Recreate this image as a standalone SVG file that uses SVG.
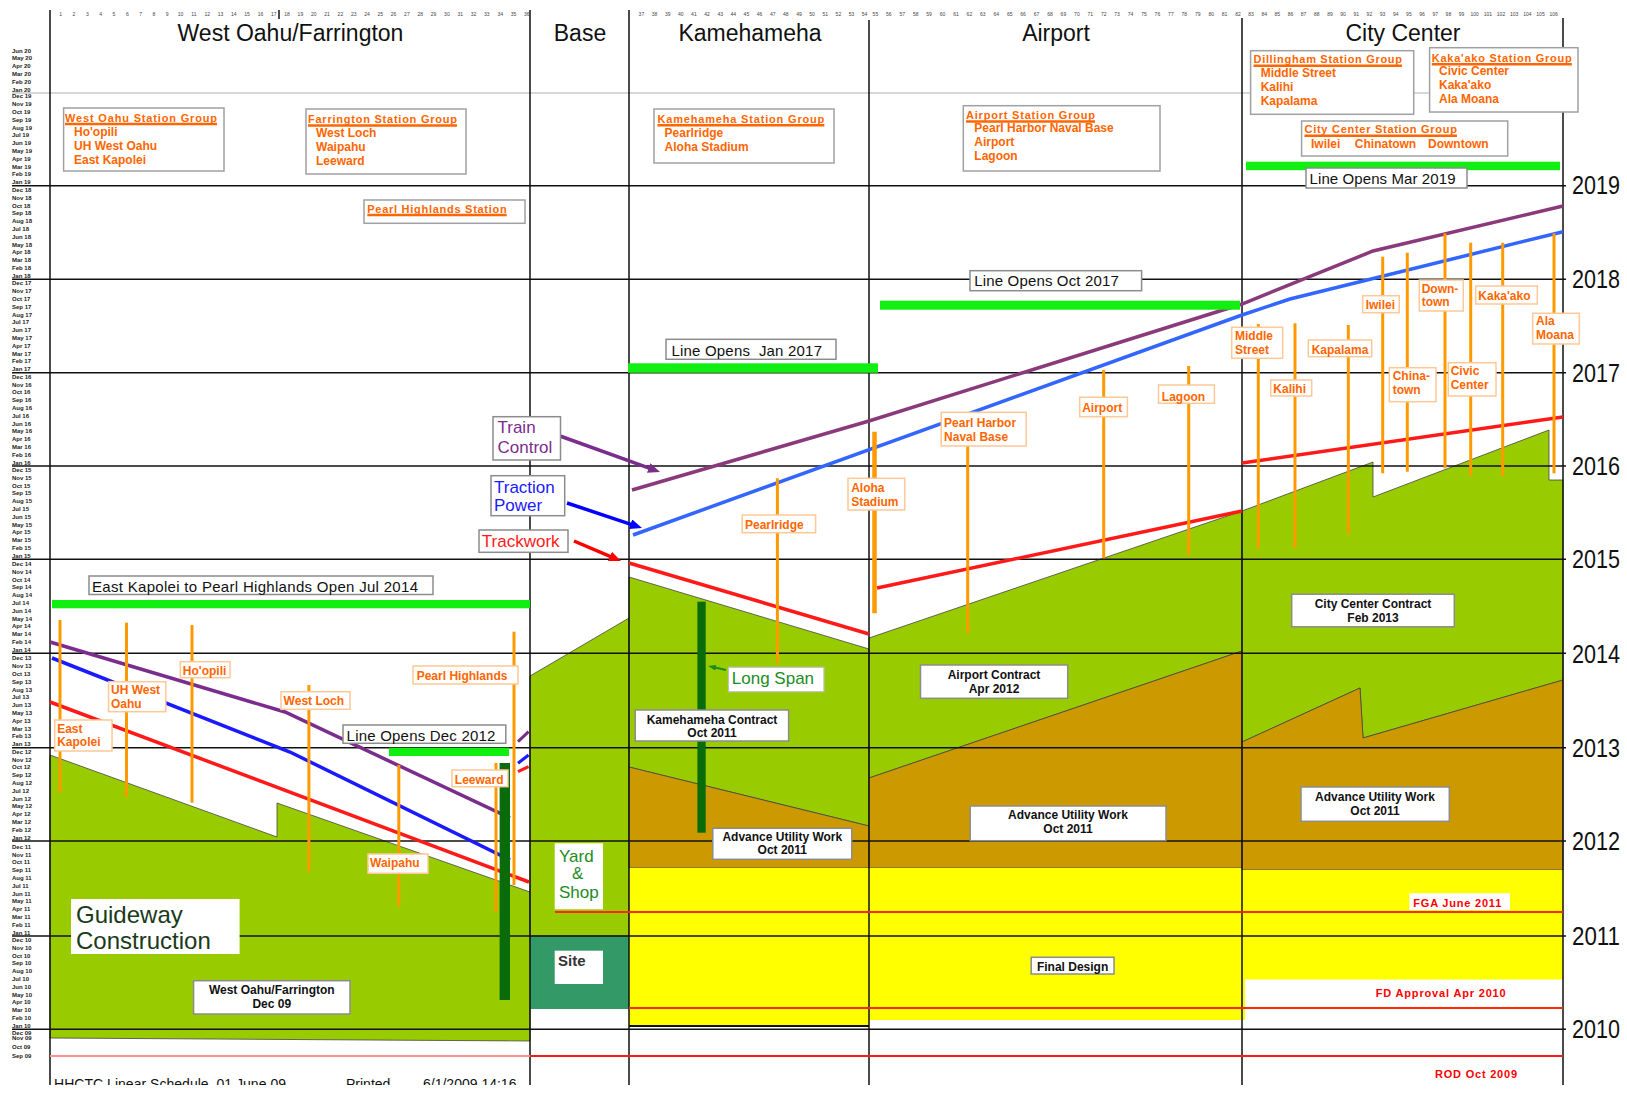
<svg xmlns="http://www.w3.org/2000/svg" width="1627" height="1095" viewBox="0 0 1627 1095">
<defs>
<style>
text{font-family:"Liberation Sans",Arial,sans-serif}
.grid{stroke:#111;stroke-width:1.5;fill:none}
.fill{stroke:#444;stroke-width:0.8}
.g{fill:#99CC00}.br{fill:#CC9900}.ye{fill:#FFFF00}
.hdr{font-size:23px;fill:#111;text-anchor:middle}
.sgbox{fill:#fff;stroke:#a0a0a0;stroke-width:1.5}
.sgt{font-size:11px;font-weight:bold;fill:#ff6600}
.ul{stroke:#ff6600;stroke-width:2.5}
.sgi{font-size:12px;font-weight:bold;fill:#ff6600}
.stbox{fill:#fff;stroke:#ffc896;stroke-width:1.5}
.stl{stroke:#ff9900;stroke-width:3;fill:none}
.bx{fill:#fff;stroke:#8c8c8c;stroke-width:1.5}
.bt{font-size:12px;font-weight:bold;fill:#111;text-anchor:middle}
.lo{font-size:15px;fill:#111}
.yr{font-size:25px;fill:#111}
.mo{font-size:6px;font-weight:bold;fill:#222}
.tk{font-size:5px;fill:#444;text-anchor:middle}
.ms{stroke:#ff2a00;stroke-width:2;fill:none}
.mst{font-size:11px;font-weight:bold;fill:#ff0000}
.gb{fill:#11ee11}
</style>
<marker id="ap" viewBox="0 0 12 10" refX="2" refY="5" markerWidth="12" markerHeight="10" markerUnits="userSpaceOnUse" orient="auto"><path d="M0,0 L12,5 L0,10 z" fill="#7B2D8E"/></marker>
<marker id="ab" viewBox="0 0 12 10" refX="2" refY="5" markerWidth="12" markerHeight="10" markerUnits="userSpaceOnUse" orient="auto"><path d="M0,0 L12,5 L0,10 z" fill="#0000ff"/></marker>
<marker id="ar" viewBox="0 0 12 10" refX="2" refY="5" markerWidth="12" markerHeight="10" markerUnits="userSpaceOnUse" orient="auto"><path d="M0,0 L12,5 L0,10 z" fill="#ff0000"/></marker>
<marker id="ag" viewBox="0 0 8 6" refX="1" refY="3" markerWidth="8" markerHeight="6" markerUnits="userSpaceOnUse" orient="auto"><path d="M0,0 L8,3 L0,6 z" fill="#1e8c1e"/></marker>
</defs>
<rect width="1627" height="1095" fill="#fff"/>

<g id="fills">
<polygon class="fill g" points="50,755 277,837 277,803 530,892 530,1041 50,1038"/>
<polygon class="fill g" points="530,676 629,618 629,936 530,936"/>
<rect x="530" y="936" width="99" height="73" fill="#339966"/>
<polygon class="fill g" points="629,577 869,649 869,826 629,767"/>
<polygon class="fill br" points="629,767 869,826 869,868 629,868"/>
<rect class="ye" x="629" y="868" width="240" height="157"/>
<polygon class="fill g" points="869,638 1242,511 1242,651 869,778"/>
<polygon class="fill br" points="869,778 1242,651 1242,868 869,868"/>
<rect class="ye" x="869" y="868" width="376" height="152"/>
<polygon class="fill g" points="1242,511 1373,462 1373,497 1549,430 1549,480 1563,480 1563,680 1363,738 1360,688 1242,742"/>
<polygon class="fill br" points="1242,742 1360,688 1363,738 1563,680 1563,870 1242,870"/>
<rect class="ye" x="1242" y="870" width="321" height="109.5"/>
</g>

<g id="grid">
<line x1="12" y1="93" x2="1563" y2="93" stroke="#b0b0b0" stroke-width="1.2"/>
<path class="grid" d="M12,185.7H1566M12,279.3H1566M12,372.7H1566M12,466H1566M12,559.3H1566M12,653.3H1566M12,747.7H1566M12,841H1566M12,936H1566M12,1029.3H1566"/>
<path class="grid" d="M50,10V1085M530,10V1085M629,10V1085M869,20V1085M1242,18V1085M1563,18V1087"/>
<line x1="629" y1="1026" x2="869" y2="1026" stroke="#111" stroke-width="2"/>
<line x1="279" y1="10" x2="279" y2="19" stroke="#111" stroke-width="1.5"/>
</g>

<g id="milestones">
<line class="ms" x1="555" y1="912" x2="1563" y2="912"/>
<line class="ms" x1="629" y1="1008" x2="1563" y2="1008" stroke="#ff0000"/>
<line x1="50" y1="1056" x2="530" y2="1056" stroke="#ff8f8f" stroke-width="2"/>
<line x1="530" y1="1056" x2="1563" y2="1056" stroke="#ff1a1a" stroke-width="2"/>
</g>

<g id="schedule-lines" fill="none" stroke-width="3.5">
<polyline points="50,642 285,712 510,818" stroke="#7B2D8E"/>
<polyline points="52,658 290,752 510,860" stroke="#1a1aff"/>
<polyline points="50,702 529,882" stroke="#ff1a1a"/>
<line x1="518" y1="741.7" x2="528.6" y2="731.7" stroke="#7B2D8E" stroke-width="3"/>
<line x1="518" y1="763.3" x2="528.6" y2="755" stroke="#1a1aff" stroke-width="3"/>
<line x1="518" y1="771.7" x2="528.6" y2="766.7" stroke="#ff1a1a" stroke-width="3"/>
<polyline points="632,490 869,421 1242,304 1373,251 1563,206" stroke="#8A3A7A"/>
<polyline points="633,535 1242,315 1290,299 1563,231.7" stroke="#3366ff"/>
<polyline points="629,563 869,634" stroke="#ff1a1a"/>
<polyline points="877,588 1242,511" stroke="#ff1a1a"/>
<polyline points="1242,463 1563,417" stroke="#ff1a1a"/>
</g>

<g id="station-lines" class="stl">
<line x1="60" y1="620" x2="60" y2="793"/>
<line x1="126.5" y1="622.7" x2="126.5" y2="797"/>
<line x1="192" y1="625" x2="192" y2="802.7"/>
<line x1="308.9" y1="685" x2="308.9" y2="871.7"/>
<line x1="398.8" y1="765" x2="398.8" y2="906.7"/>
<line x1="496" y1="763" x2="496" y2="911.7"/>
<line x1="514" y1="631.7" x2="514" y2="885"/>
<line x1="777.4" y1="478.3" x2="777.4" y2="663.3"/>
<line x1="874.5" y1="431.7" x2="874.5" y2="613.3" stroke-width="4.5"/>
<line x1="967.7" y1="446" x2="967.7" y2="633.3"/>
<line x1="1103.7" y1="370" x2="1103.7" y2="558.3"/>
<line x1="1188.7" y1="366" x2="1188.7" y2="555"/>
<line x1="1258.3" y1="324" x2="1258.3" y2="548"/>
<line x1="1295" y1="323.3" x2="1295" y2="548"/>
<line x1="1348.3" y1="325" x2="1348.3" y2="534"/>
<line x1="1382.7" y1="256.7" x2="1382.7" y2="473.3"/>
<line x1="1407.3" y1="252.7" x2="1407.3" y2="471.7"/>
<line x1="1445" y1="233.3" x2="1445" y2="468.3"/>
<line x1="1470.7" y1="242.7" x2="1470.7" y2="476"/>
<line x1="1502.7" y1="242.7" x2="1502.7" y2="476"/>
<line x1="1554" y1="233.3" x2="1554" y2="473.3"/>
</g>

<g id="long-span-bars" fill="#0a6b0a">
<rect x="499.6" y="763" width="10.4" height="237"/>
<rect x="697.4" y="601.7" width="8.3" height="231"/>
</g>

<g id="green-bars">
<rect class="gb" x="52" y="600" width="478" height="8.3"/>
<rect class="gb" x="389" y="747.7" width="120" height="8.3"/>
<rect class="gb" x="628" y="363.3" width="250" height="9.5"/>
<rect class="gb" x="880" y="300.7" width="360" height="9"/>
<rect class="gb" x="1246" y="161.7" width="314" height="8.5"/>
</g>

<g id="connectors" stroke-width="3.5" fill="none">
<line x1="560" y1="436" x2="650.6" y2="468.6" stroke="#7B2D8E" marker-end="url(#ap)"/>
<line x1="567" y1="503" x2="632.5" y2="524.8" stroke="#0000ff" marker-end="url(#ab)"/>
<line x1="574" y1="541" x2="611.8" y2="557.1" stroke="#ff0000" marker-end="url(#ar)"/>
<line x1="726" y1="670" x2="715" y2="667.5" stroke="#1e8c1e" stroke-width="2" marker-end="url(#ag)"/>
</g>

<g id="headers">
<text class="hdr" x="290.5" y="41">West Oahu/Farrington</text>
<text class="hdr" x="580" y="41">Base</text>
<text class="hdr" x="750" y="41">Kamehameha</text>
<text class="hdr" x="1056" y="41">Airport</text>
<text class="hdr" x="1403" y="41">City Center</text>
</g>

<g id="west-oahu-station-group">
<rect class="sgbox" x="63.6" y="108" width="160.4" height="63"/>
<text class="sgt" x="65" y="121.5" textLength="152">West Oahu Station Group</text>
<line class="ul" x1="65" y1="124" x2="217" y2="124"/>
<text class="sgi" x="74" y="135.7">Ho'opili</text>
<text class="sgi" x="74" y="149.7">UH West Oahu</text>
<text class="sgi" x="74" y="163.7">East Kapolei</text>
</g>
<g id="farrington-station-group">
<rect class="sgbox" x="306" y="109" width="160" height="65"/>
<text class="sgt" x="308" y="123" textLength="149">Farrington Station Group</text>
<line class="ul" x1="308" y1="125.5" x2="457" y2="125.5"/>
<text class="sgi" x="316" y="137.3">West Loch</text>
<text class="sgi" x="316" y="151.3">Waipahu</text>
<text class="sgi" x="316" y="165.3">Leeward</text>
</g>
<g id="kamehameha-station-group">
<rect class="sgbox" x="654" y="109" width="180" height="54"/>
<text class="sgt" x="657.5" y="122.7" textLength="166.8">Kamehameha Station Group</text>
<line class="ul" x1="657.5" y1="125.2" x2="824.3" y2="125.2"/>
<text class="sgi" x="664.6" y="137.3">Pearlridge</text>
<text class="sgi" x="664.6" y="151.3">Aloha Stadium</text>
</g>
<g id="airport-station-group">
<rect class="sgbox" x="963.3" y="105.7" width="196.7" height="65.3"/>
<text class="sgt" x="966" y="119" textLength="129">Airport Station Group</text>
<line class="ul" x1="966" y1="121.5" x2="1095" y2="121.5"/>
<text class="sgi" x="974.3" y="132.3">Pearl Harbor Naval Base</text>
<text class="sgi" x="974.3" y="145.7">Airport</text>
<text class="sgi" x="974.3" y="160">Lagoon</text>
</g>
<g id="dillingham-station-group">
<rect class="sgbox" x="1250.6" y="50.7" width="163.1" height="63.6"/>
<text class="sgt" x="1253.5" y="63.3" textLength="148.5">Dillingham Station Group</text>
<line class="ul" x1="1253.5" y1="65.8" x2="1402" y2="65.8"/>
<text class="sgi" x="1260.7" y="76.7">Middle Street</text>
<text class="sgi" x="1260.7" y="90.7">Kalihi</text>
<text class="sgi" x="1260.7" y="104.7">Kapalama</text>
</g>
<g id="kakaako-station-group">
<rect class="sgbox" x="1429.6" y="47.7" width="148.4" height="64.3"/>
<text class="sgt" x="1431.8" y="61.7" textLength="140">Kaka'ako Station Group</text>
<line class="ul" x1="1431.8" y1="64.2" x2="1571.8" y2="64.2"/>
<text class="sgi" x="1439" y="75">Civic Center</text>
<text class="sgi" x="1439" y="89">Kaka'ako</text>
<text class="sgi" x="1439" y="103">Ala Moana</text>
</g>
<g id="city-center-station-group">
<rect class="sgbox" x="1301.6" y="121" width="206.1" height="35"/>
<text class="sgt" x="1304.5" y="133.3" textLength="152.5">City Center Station Group</text>
<line class="ul" x1="1304.5" y1="135.8" x2="1457" y2="135.8"/>
<text class="sgi" x="1311" y="147.7">Iwilei</text>
<text class="sgi" x="1354.8" y="147.7">Chinatown</text>
<text class="sgi" x="1428" y="147.7">Downtown</text>
</g>
<g id="pearl-highlands-station">
<rect class="sgbox" x="364" y="200" width="161" height="23.3"/>
<text class="sgt" x="367.3" y="212.5" textLength="139.4">Pearl Highlands Station</text>
<line class="ul" x1="367.3" y1="215" x2="506.7" y2="215"/>
</g>

<g id="line-opens-mar-2019"><rect class="bx" x="1306" y="168" width="161" height="20"/><text class="lo" x="1309.5" y="183.5" textLength="146">Line Opens Mar 2019</text></g>
<g id="line-opens-oct-2017"><rect class="bx" x="970" y="270.7" width="171.6" height="20"/><text class="lo" x="974.3" y="286" textLength="144.5">Line Opens Oct 2017</text></g>
<g id="line-opens-jan-2017"><rect class="bx" x="666" y="339.3" width="170" height="20"/><text class="lo" x="671.4" y="356" textLength="150.6">Line Opens &#160;Jan 2017</text></g>
<g id="east-kapolei-open"><rect class="bx" x="89" y="576" width="344" height="18.5"/><text class="lo" x="92" y="591.7" textLength="326">East Kapolei to Pearl Highlands Open Jul 2014</text></g>
<g id="line-opens-dec-2012"><rect class="bx" x="343" y="725" width="162.8" height="18.3"/><text class="lo" x="346.6" y="741" textLength="148.8">Line Opens Dec 2012</text></g>

<g id="train-control"><rect class="bx" x="493" y="416.7" width="67.5" height="43.3"/><text x="497.5" y="433.3" font-size="17" fill="#7B2D8E">Train</text><text x="497.5" y="452.7" font-size="17" fill="#7B2D8E">Control</text></g>
<g id="traction-power"><rect class="bx" x="491" y="475.7" width="73.7" height="40"/><text x="494" y="493.3" font-size="17" fill="#1a1aff">Traction</text><text x="494" y="510.7" font-size="17" fill="#1a1aff">Power</text></g>
<g id="trackwork"><rect class="bx" x="479" y="530" width="89" height="22.3"/><text x="481.8" y="546.7" font-size="17" fill="#ff1a1a">Trackwork</text></g>

<g id="guideway-construction"><rect x="71" y="899" width="168.6" height="55" fill="#fff"/><text x="76" y="922.7" font-size="24" fill="#1a3a1a">Guideway</text><text x="76" y="949.3" font-size="24" fill="#1a3a1a">Construction</text></g>
<g id="yard-shop"><rect x="554.7" y="843.3" width="48.3" height="66" fill="#fff"/><text x="559" y="861.7" font-size="17" fill="#1e8c1e">Yard</text><text x="572" y="879.3" font-size="17" fill="#1e8c1e">&amp;</text><text x="559" y="898.3" font-size="17" fill="#1e8c1e">Shop</text></g>
<g id="site"><rect x="554.7" y="950.7" width="48.3" height="33.3" fill="#fff"/><text x="558" y="966" font-size="15" font-weight="bold" fill="#333">Site</text></g>
<g id="long-span"><rect x="728.5" y="667.3" width="95.4" height="24.4" fill="#fff" stroke="#c0c0c0" stroke-width="1.2"/><text x="731.8" y="684" font-size="17" fill="#1e8c1e">Long Span</text></g>

<g id="west-oahu-farrington-contract"><rect class="bx" x="193.6" y="980.7" width="156.4" height="33.3"/><text class="bt" x="271.8" y="994">West Oahu/Farrington</text><text class="bt" x="271.8" y="1008">Dec 09</text></g>
<g id="kamehameha-contract"><rect class="bx" x="635.2" y="710" width="153.4" height="31"/><text class="bt" x="712" y="723.5">Kamehameha Contract</text><text class="bt" x="712" y="736.8">Oct 2011</text></g>
<g id="kamehameha-utility"><rect class="bx" x="712.8" y="828.3" width="138.9" height="31"/><text class="bt" x="782.3" y="840.7">Advance Utility Work</text><text class="bt" x="782.3" y="854.3">Oct 2011</text></g>
<g id="airport-contract"><rect class="bx" x="920.5" y="665" width="147.2" height="33.3"/><text class="bt" x="994" y="679">Airport Contract</text><text class="bt" x="994" y="693.3">Apr 2012</text></g>
<g id="airport-utility"><rect class="bx" x="970.2" y="806" width="195.8" height="34.7"/><text class="bt" x="1068" y="818.7">Advance Utility Work</text><text class="bt" x="1068" y="833">Oct 2011</text></g>
<g id="final-design"><rect class="bx" x="1031.2" y="957.3" width="82.8" height="16.7"/><text class="bt" x="1072.6" y="970.5">Final Design</text></g>
<g id="city-center-contract"><rect class="bx" x="1291.7" y="594.2" width="162.6" height="32.6"/><text class="bt" x="1373" y="608">City Center Contract</text><text class="bt" x="1373" y="622.3">Feb 2013</text></g>
<g id="city-center-utility"><rect class="bx" x="1301" y="787" width="148.3" height="34.3"/><text class="bt" x="1375" y="800.6">Advance Utility Work</text><text class="bt" x="1375" y="815">Oct 2011</text></g>

<g id="fga"><rect x="1409.3" y="893.2" width="100.7" height="16.8" fill="#fff"/><text class="mst" x="1413.3" y="906.6" textLength="88">FGA June 2011</text></g>
<g id="fd-approval"><text class="mst" x="1375.7" y="996.6" textLength="130">FD Approval Apr 2010</text></g>
<g id="rod"><text class="mst" x="1435" y="1077.8" textLength="82">ROD Oct 2009</text></g>

<g id="station-labels" class="sgi">
<g id="st-east-kapolei"><rect class="stbox" x="54.7" y="720" width="57.3" height="31"/><text x="57.2" y="732.7">East</text><text x="57.2" y="746">Kapolei</text></g>
<g id="st-uh-west-oahu"><rect class="stbox" x="108.6" y="681.7" width="57.2" height="30"/><text x="111" y="694">UH West</text><text x="111" y="708.3">Oahu</text></g>
<g id="st-hoopili"><rect class="stbox" x="180.3" y="661.7" width="49.7" height="16"/><text x="182.8" y="675">Ho'opili</text></g>
<g id="st-west-loch"><rect class="stbox" x="281" y="691.7" width="69" height="17.6"/><text x="283.6" y="705">West Loch</text></g>
<g id="st-waipahu"><rect class="stbox" x="368" y="854" width="60" height="19.3"/><text x="370" y="867.3">Waipahu</text></g>
<g id="st-leeward"><rect class="stbox" x="452" y="770" width="56" height="16.7"/><text x="454.8" y="784">Leeward</text></g>
<g id="st-pearl-highlands"><rect class="stbox" x="413" y="666" width="105" height="18"/><text x="416.7" y="680">Pearl Highlands</text></g>
<g id="st-pearlridge"><rect class="stbox" x="742.2" y="515" width="73.4" height="17.7"/><text x="745" y="529.3">Pearlridge</text></g>
<g id="st-aloha-stadium"><rect class="stbox" x="848" y="478.3" width="56.7" height="31.7"/><text x="851.2" y="491.7">Aloha</text><text x="851.2" y="506">Stadium</text></g>
<g id="st-pearl-harbor"><rect class="stbox" x="941.2" y="412.3" width="85" height="33.7"/><text x="944.1" y="426.7">Pearl Harbor</text><text x="944.1" y="440.7">Naval Base</text></g>
<g id="st-airport"><rect class="stbox" x="1079.7" y="397.3" width="47.7" height="19.4"/><text x="1082.2" y="411.7">Airport</text></g>
<g id="st-lagoon"><rect class="stbox" x="1158.5" y="385" width="55.9" height="18.3"/><text x="1161.8" y="400.7">Lagoon</text></g>
<g id="st-middle-street"><rect class="stbox" x="1231.7" y="327.3" width="51" height="31"/><text x="1235" y="340">Middle</text><text x="1235" y="354">Street</text></g>
<g id="st-kalihi"><rect class="stbox" x="1270.7" y="380" width="41" height="16"/><text x="1273.3" y="393.3">Kalihi</text></g>
<g id="st-kapalama"><rect class="stbox" x="1308.3" y="340" width="63.4" height="16.7"/><text x="1311.7" y="354">Kapalama</text></g>
<g id="st-iwilei"><rect class="stbox" x="1362.7" y="295.7" width="36.6" height="17"/><text x="1365.7" y="309.3">Iwilei</text></g>
<g id="st-chinatown"><rect class="stbox" x="1389.3" y="367.7" width="46.7" height="34"/><text x="1392.7" y="380">China-</text><text x="1392.7" y="394">town</text></g>
<g id="st-downtown"><rect class="stbox" x="1419.3" y="280" width="44" height="31"/><text x="1421.7" y="292.7">Down-</text><text x="1421.7" y="306">town</text></g>
<g id="st-civic-center"><rect class="stbox" x="1448.3" y="362.7" width="47.7" height="33.3"/><text x="1450.7" y="375">Civic</text><text x="1450.7" y="389.3">Center</text></g>
<g id="st-kakaako"><rect class="stbox" x="1475.7" y="286" width="61.6" height="18"/><text x="1478.3" y="300">Kaka'ako</text></g>
<g id="st-ala-moana"><rect class="stbox" x="1532.7" y="313.3" width="46.6" height="30.7"/><text x="1536" y="325">Ala</text><text x="1536" y="339.3">Moana</text></g>
</g>

<g id="year-labels" class="yr">
<text x="1572" y="194" textLength="48" lengthAdjust="spacingAndGlyphs">2019</text>
<text x="1572" y="288" textLength="48" lengthAdjust="spacingAndGlyphs">2018</text>
<text x="1572" y="381.5" textLength="48" lengthAdjust="spacingAndGlyphs">2017</text>
<text x="1572" y="475" textLength="48" lengthAdjust="spacingAndGlyphs">2016</text>
<text x="1572" y="568" textLength="48" lengthAdjust="spacingAndGlyphs">2015</text>
<text x="1572" y="662.5" textLength="48" lengthAdjust="spacingAndGlyphs">2014</text>
<text x="1572" y="756.5" textLength="48" lengthAdjust="spacingAndGlyphs">2013</text>
<text x="1572" y="850" textLength="48" lengthAdjust="spacingAndGlyphs">2012</text>
<text x="1572" y="945" textLength="48" lengthAdjust="spacingAndGlyphs">2011</text>
<text x="1572" y="1038" textLength="48" lengthAdjust="spacingAndGlyphs">2010</text>
</g>

<g id="month-labels" class="mo">
<text><tspan x="12" y="52.5">Jun 20</tspan><tspan x="12" y="60.3">May 20</tspan><tspan x="12" y="68.1">Apr 20</tspan><tspan x="12" y="75.9">Mar 20</tspan><tspan x="12" y="83.7">Feb 20</tspan><tspan x="12" y="91.5">Jan 20</tspan></text>
<text><tspan x="12" y="98.4">Dec 19</tspan><tspan x="12" y="106.2">Nov 19</tspan><tspan x="12" y="114">Oct 19</tspan><tspan x="12" y="121.8">Sep 19</tspan><tspan x="12" y="129.6">Aug 19</tspan><tspan x="12" y="137.4">Jul 19</tspan><tspan x="12" y="145.2">Jun 19</tspan><tspan x="12" y="153">May 19</tspan><tspan x="12" y="160.8">Apr 19</tspan><tspan x="12" y="168.6">Mar 19</tspan><tspan x="12" y="176.4">Feb 19</tspan><tspan x="12" y="184.2">Jan 19</tspan></text>
<text><tspan x="12" y="192">Dec 18</tspan><tspan x="12" y="199.8">Nov 18</tspan><tspan x="12" y="207.6">Oct 18</tspan><tspan x="12" y="215.4">Sep 18</tspan><tspan x="12" y="223.2">Aug 18</tspan><tspan x="12" y="231">Jul 18</tspan><tspan x="12" y="238.8">Jun 18</tspan><tspan x="12" y="246.6">May 18</tspan><tspan x="12" y="254.4">Apr 18</tspan><tspan x="12" y="262.2">Mar 18</tspan><tspan x="12" y="270">Feb 18</tspan><tspan x="12" y="277.8">Jan 18</tspan></text>
<text><tspan x="12" y="285.4">Dec 17</tspan><tspan x="12" y="293.2">Nov 17</tspan><tspan x="12" y="301">Oct 17</tspan><tspan x="12" y="308.8">Sep 17</tspan><tspan x="12" y="316.6">Aug 17</tspan><tspan x="12" y="324.4">Jul 17</tspan><tspan x="12" y="332.2">Jun 17</tspan><tspan x="12" y="340">May 17</tspan><tspan x="12" y="347.8">Apr 17</tspan><tspan x="12" y="355.6">Mar 17</tspan><tspan x="12" y="363.4">Feb 17</tspan><tspan x="12" y="371.2">Jan 17</tspan></text>
<text><tspan x="12" y="378.7">Dec 16</tspan><tspan x="12" y="386.5">Nov 16</tspan><tspan x="12" y="394.3">Oct 16</tspan><tspan x="12" y="402.1">Sep 16</tspan><tspan x="12" y="409.9">Aug 16</tspan><tspan x="12" y="417.7">Jul 16</tspan><tspan x="12" y="425.5">Jun 16</tspan><tspan x="12" y="433.3">May 16</tspan><tspan x="12" y="441.1">Apr 16</tspan><tspan x="12" y="448.9">Mar 16</tspan><tspan x="12" y="456.7">Feb 16</tspan><tspan x="12" y="464.5">Jan 16</tspan></text>
<text><tspan x="12" y="472">Dec 15</tspan><tspan x="12" y="479.8">Nov 15</tspan><tspan x="12" y="487.6">Oct 15</tspan><tspan x="12" y="495.4">Sep 15</tspan><tspan x="12" y="503.2">Aug 15</tspan><tspan x="12" y="511">Jul 15</tspan><tspan x="12" y="518.8">Jun 15</tspan><tspan x="12" y="526.6">May 15</tspan><tspan x="12" y="534.4">Apr 15</tspan><tspan x="12" y="542.2">Mar 15</tspan><tspan x="12" y="550">Feb 15</tspan><tspan x="12" y="557.8">Jan 15</tspan></text>
<text><tspan x="12" y="566">Dec 14</tspan><tspan x="12" y="573.8">Nov 14</tspan><tspan x="12" y="581.6">Oct 14</tspan><tspan x="12" y="589.4">Sep 14</tspan><tspan x="12" y="597.2">Aug 14</tspan><tspan x="12" y="605">Jul 14</tspan><tspan x="12" y="612.8">Jun 14</tspan><tspan x="12" y="620.6">May 14</tspan><tspan x="12" y="628.4">Apr 14</tspan><tspan x="12" y="636.2">Mar 14</tspan><tspan x="12" y="644">Feb 14</tspan><tspan x="12" y="651.8">Jan 14</tspan></text>
<text><tspan x="12" y="660.4">Dec 13</tspan><tspan x="12" y="668.2">Nov 13</tspan><tspan x="12" y="676">Oct 13</tspan><tspan x="12" y="683.8">Sep 13</tspan><tspan x="12" y="691.6">Aug 13</tspan><tspan x="12" y="699.4">Jul 13</tspan><tspan x="12" y="707.2">Jun 13</tspan><tspan x="12" y="715">May 13</tspan><tspan x="12" y="722.8">Apr 13</tspan><tspan x="12" y="730.6">Mar 13</tspan><tspan x="12" y="738.4">Feb 13</tspan><tspan x="12" y="746.2">Jan 13</tspan></text>
<text><tspan x="12" y="753.7">Dec 12</tspan><tspan x="12" y="761.5">Nov 12</tspan><tspan x="12" y="769.3">Oct 12</tspan><tspan x="12" y="777.1">Sep 12</tspan><tspan x="12" y="784.9">Aug 12</tspan><tspan x="12" y="792.7">Jul 12</tspan><tspan x="12" y="800.5">Jun 12</tspan><tspan x="12" y="808.3">May 12</tspan><tspan x="12" y="816.1">Apr 12</tspan><tspan x="12" y="823.9">Mar 12</tspan><tspan x="12" y="831.7">Feb 12</tspan><tspan x="12" y="839.5">Jan 12</tspan></text>
<text><tspan x="12" y="848.7">Dec 11</tspan><tspan x="12" y="856.5">Nov 11</tspan><tspan x="12" y="864.3">Oct 11</tspan><tspan x="12" y="872.1">Sep 11</tspan><tspan x="12" y="879.9">Aug 11</tspan><tspan x="12" y="887.7">Jul 11</tspan><tspan x="12" y="895.5">Jun 11</tspan><tspan x="12" y="903.3">May 11</tspan><tspan x="12" y="911.1">Apr 11</tspan><tspan x="12" y="918.9">Mar 11</tspan><tspan x="12" y="926.7">Feb 11</tspan><tspan x="12" y="934.5">Jan 11</tspan></text>
<text><tspan x="12" y="942">Dec 10</tspan><tspan x="12" y="949.8">Nov 10</tspan><tspan x="12" y="957.6">Oct 10</tspan><tspan x="12" y="965.4">Sep 10</tspan><tspan x="12" y="973.2">Aug 10</tspan><tspan x="12" y="981">Jul 10</tspan><tspan x="12" y="988.8">Jun 10</tspan><tspan x="12" y="996.6">May 10</tspan><tspan x="12" y="1004.4">Apr 10</tspan><tspan x="12" y="1012.2">Mar 10</tspan><tspan x="12" y="1020">Feb 10</tspan><tspan x="12" y="1027.8">Jan 10</tspan></text>
<text><tspan x="12" y="1035">Dec 09</tspan><tspan x="12" y="1040">Nov 09</tspan><tspan x="12" y="1049">Oct 09</tspan><tspan x="12" y="1058">Sep 09</tspan></text>
</g>

<g id="column-ticks" class="tk">
<text y="16"><tspan x="60.7">1</tspan><tspan x="74">2</tspan><tspan x="87.3">3</tspan><tspan x="100.7">4</tspan><tspan x="114">5</tspan><tspan x="127.3">6</tspan><tspan x="140.6">7</tspan><tspan x="153.9">8</tspan><tspan x="167.2">9</tspan><tspan x="180.6">10</tspan><tspan x="193.9">11</tspan><tspan x="207.2">12</tspan><tspan x="220.5">13</tspan><tspan x="233.8">14</tspan><tspan x="247.1">15</tspan><tspan x="260.5">16</tspan><tspan x="273.8">17</tspan><tspan x="287.1">18</tspan><tspan x="300.4">19</tspan><tspan x="313.7">20</tspan><tspan x="327">21</tspan><tspan x="340.4">22</tspan><tspan x="353.7">23</tspan><tspan x="367">24</tspan><tspan x="380.3">25</tspan><tspan x="393.6">26</tspan><tspan x="406.9">27</tspan><tspan x="420.3">28</tspan><tspan x="433.6">29</tspan><tspan x="446.9">30</tspan><tspan x="460.2">31</tspan><tspan x="473.5">32</tspan><tspan x="486.8">33</tspan><tspan x="500.2">34</tspan><tspan x="513.5">35</tspan><tspan x="526.8">36</tspan></text>
<text y="16"><tspan x="641.4">37</tspan><tspan x="654.5">38</tspan><tspan x="667.7">39</tspan><tspan x="680.8">40</tspan><tspan x="693.9">41</tspan><tspan x="707.1">42</tspan><tspan x="720.2">43</tspan><tspan x="733.3">44</tspan><tspan x="746.4">45</tspan><tspan x="759.6">46</tspan><tspan x="772.7">47</tspan><tspan x="785.8">48</tspan><tspan x="799">49</tspan><tspan x="812.1">50</tspan><tspan x="825.2">51</tspan><tspan x="838.4">52</tspan><tspan x="851.5">53</tspan><tspan x="864.6">54</tspan></text>
<text y="16"><tspan x="875.4">55</tspan><tspan x="888.8">56</tspan><tspan x="902.3">57</tspan><tspan x="915.7">58</tspan><tspan x="929.1">59</tspan><tspan x="942.6">60</tspan><tspan x="956">61</tspan><tspan x="969.4">62</tspan><tspan x="982.8">63</tspan><tspan x="996.3">64</tspan><tspan x="1009.7">65</tspan><tspan x="1023.1">66</tspan><tspan x="1036.6">67</tspan><tspan x="1050">68</tspan><tspan x="1063.4">69</tspan><tspan x="1076.9">70</tspan><tspan x="1090.3">71</tspan><tspan x="1103.7">72</tspan><tspan x="1117.1">73</tspan><tspan x="1130.6">74</tspan><tspan x="1144">75</tspan><tspan x="1157.4">76</tspan><tspan x="1170.9">77</tspan><tspan x="1184.3">78</tspan><tspan x="1197.7">79</tspan><tspan x="1211.2">80</tspan><tspan x="1224.6">81</tspan><tspan x="1238">82</tspan></text>
<text y="16"><tspan x="1251">83</tspan><tspan x="1264.2">84</tspan><tspan x="1277.3">85</tspan><tspan x="1290.5">86</tspan><tspan x="1303.6">87</tspan><tspan x="1316.8">88</tspan><tspan x="1330">89</tspan><tspan x="1343.1">90</tspan><tspan x="1356.3">91</tspan><tspan x="1369.4">92</tspan><tspan x="1382.6">93</tspan><tspan x="1395.8">94</tspan><tspan x="1408.9">95</tspan><tspan x="1422.1">96</tspan><tspan x="1435.2">97</tspan><tspan x="1448.4">98</tspan><tspan x="1461.6">99</tspan><tspan x="1474.7">100</tspan><tspan x="1487.9">101</tspan><tspan x="1501">102</tspan><tspan x="1514.2">103</tspan><tspan x="1527.4">104</tspan><tspan x="1540.5">105</tspan><tspan x="1553.7">106</tspan></text>
</g>

<g id="footer">
<text x="54" y="1089" font-size="14" fill="#111" textLength="232" xml:space="preserve">HHCTC Linear Schedule  01 June 09</text>
<text x="346" y="1089" font-size="14" fill="#111">Printed</text>
<text x="423" y="1089" font-size="14" fill="#111">6/1/2009 14:16</text>
<rect x="0" y="1085" width="1627" height="10" fill="#fff"/>
</g>
</svg>
